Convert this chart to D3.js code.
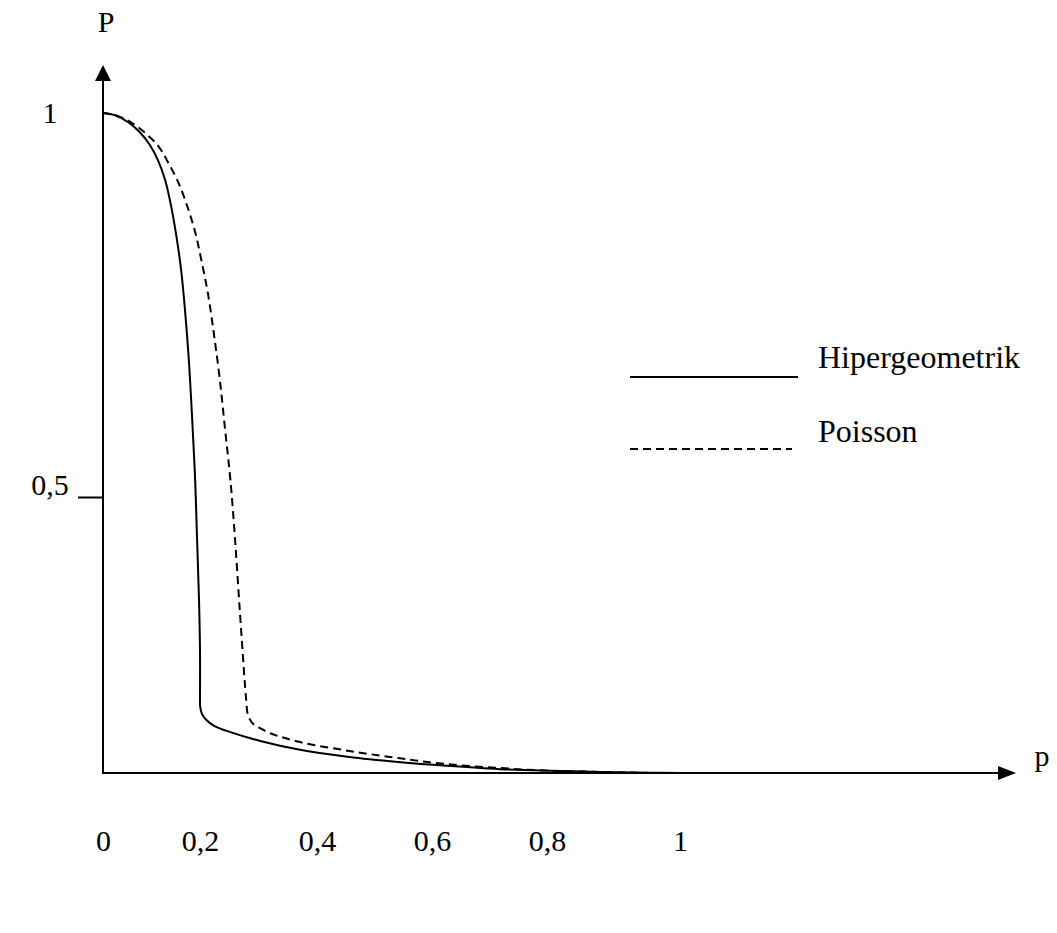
<!DOCTYPE html>
<html>
<head>
<meta charset="utf-8">
<script src="https://cdn.jsdelivr.net/npm/d3@7"></script>
<style>
  html, body { margin: 0; padding: 0; background: #fff; }
  svg { display: block; }
  text { font-family: "Liberation Serif", "Times New Roman", serif; fill: #000; }
</style>
</head>
<body>
<svg id="chart" width="1057" height="933"></svg>
<script>
// Operating characteristic curves: probability of acceptance P against fraction defective p
const xTicks = [0, 0.2, 0.4, 0.6, 0.8, 1];
const xTickLabels = ["0", "0,2", "0,4", "0,6", "0,8", "1"];
const yTicks = [0.5, 1];
const yTickLabels = ["0,5", "1"];

const seriesNames = ["Hipergeometrik", "Poisson"];

// Hypergeometric curve (p, P)
const hyperP = [0, 0.025, 0.052, 0.076, 0.097, 0.113, 0.128, 0.140, 0.151, 0.161, 0.169, 0.177, 0.184, 0.190, 0.194, 0.198, 0.200, 0.200, 0.200, 0.203, 0.210, 0.225, 0.252, 0.303, 0.371, 0.456, 0.541, 0.626, 0.718, 0.805, 0.880, 0.955, 1.0];
const hyperV = [1, 0.997, 0.988, 0.975, 0.958, 0.939, 0.913, 0.880, 0.841, 0.796, 0.744, 0.678, 0.600, 0.522, 0.422, 0.313, 0.223, 0.132, 0.123, 0.108, 0.097, 0.085, 0.074, 0.058, 0.042, 0.029, 0.020, 0.013, 0.007, 0.004, 0.002, 0.0005, 0];

// Poisson approximation (p, P)
const poisP = [0, 0.031, 0.060, 0.087, 0.114, 0.134, 0.155, 0.173, 0.190, 0.203, 0.214, 0.224, 0.234, 0.243, 0.252, 0.260, 0.268, 0.275, 0.279, 0.282, 0.290, 0.305, 0.320, 0.371, 0.456, 0.541, 0.626, 0.718, 0.805, 0.880, 0.955];
const poisV = [1, 0.996, 0.987, 0.974, 0.957, 0.936, 0.910, 0.880, 0.845, 0.806, 0.763, 0.711, 0.652, 0.587, 0.522, 0.422, 0.295, 0.187, 0.132, 0.105, 0.090, 0.080, 0.072, 0.056, 0.040, 0.027, 0.016, 0.009, 0.004, 0.002, 0];

const svg = d3.select("#chart");

// Hand-placed axis: scales pass through the labelled ticks
const x = d3.scaleLinear().domain(xTicks).range([103, 200, 317, 432, 547, 680]);
const y = d3.scaleLinear().domain([0, 0.5, 1]).range([773, 497, 113]);

const x0 = x(0), y0 = y(0);
const xEnd = 1000, yEnd = 80;

// Axes with arrow heads
svg.append("line")
  .attr("x1", x0).attr("y1", y0).attr("x2", xEnd).attr("y2", y0)
  .attr("stroke", "#000").attr("stroke-width", 2);
svg.append("path")
  .attr("d", `M${xEnd + 16},${y0} L${xEnd - 2},${y0 - 7} L${xEnd - 2},${y0 + 7} Z`)
  .attr("fill", "#000");

svg.append("line")
  .attr("x1", x0).attr("y1", y0 + 1).attr("x2", x0).attr("y2", yEnd)
  .attr("stroke", "#000").attr("stroke-width", 2);
svg.append("path")
  .attr("d", `M${x0},${yEnd - 15} L${x0 - 8},${yEnd + 1} L${x0 + 8},${yEnd + 1} Z`)
  .attr("fill", "#000");

// y-axis tick at 0,5
const yAxis = d3.axisLeft(y).tickValues([0.5]).tickSize(25).tickFormat("");
const gy = svg.append("g").attr("transform", `translate(${x0},0)`).call(yAxis);
gy.select(".domain").remove();
gy.selectAll(".tick line").attr("stroke", "#000").attr("stroke-width", 2);

// x-axis labels
const xAxis = d3.axisBottom(x).tickValues(xTicks).tickSize(0)
  .tickFormat((d, i) => xTickLabels[i]);
const gx = svg.append("g").attr("transform", `translate(0,${y0})`).call(xAxis);
gx.select(".domain").remove();
gx.selectAll(".tick text")
  .attr("y", 0).attr("dy", 78)
  .style("font-family", "'Liberation Serif', 'Times New Roman', serif")
  .style("font-size", "30px").attr("fill", "#000");

// y-axis labels
svg.selectAll(".ylab").data(yTicks).join("text")
  .attr("class", "ylab")
  .attr("x", 50)
  .attr("y", d => y(d) + (d === 1 ? 10 : -2))
  .attr("text-anchor", "middle")
  .style("font-size", "30px")
  .text((d, i) => yTickLabels[i]);

// Axis titles
svg.append("text").attr("x", 106).attr("y", 32).attr("text-anchor", "middle")
  .style("font-size", "30px").text("P");
svg.append("text").attr("x", 1042).attr("y", 766).attr("text-anchor", "middle")
  .style("font-size", "30px").text("p");

// Curves
const line = d3.line()
  .x(d => x(d[0]))
  .y(d => y(d[1]))
  .curve(d3.curveCatmullRom.alpha(0.5));

const hyper = hyperP.map((p, i) => [p, hyperV[i]]);
const pois = poisP.map((p, i) => [p, poisV[i]]);

svg.append("path").datum(pois)
  .attr("d", line).attr("fill", "none")
  .attr("stroke", "#000").attr("stroke-width", 2)
  .attr("stroke-dasharray", "8,5");

svg.append("path").datum(hyper)
  .attr("d", line).attr("fill", "none")
  .attr("stroke", "#000").attr("stroke-width", 2);

// Legend
const legend = svg.append("g");
const legendRows = [
  { name: seriesNames[0], lineY: 377, textY: 368, dash: null, x2: 798 },
  { name: seriesNames[1], lineY: 449, textY: 442, dash: "8,5", x2: 792 }
];
legendRows.forEach(r => {
  legend.append("line")
    .attr("x1", 630).attr("x2", r.x2).attr("y1", r.lineY).attr("y2", r.lineY)
    .attr("stroke", "#000").attr("stroke-width", 2)
    .attr("stroke-dasharray", r.dash);
  legend.append("text")
    .attr("x", 818).attr("y", r.textY)
    .style("font-size", "32px")
    .text(r.name);
});
</script>
</body>
</html>
